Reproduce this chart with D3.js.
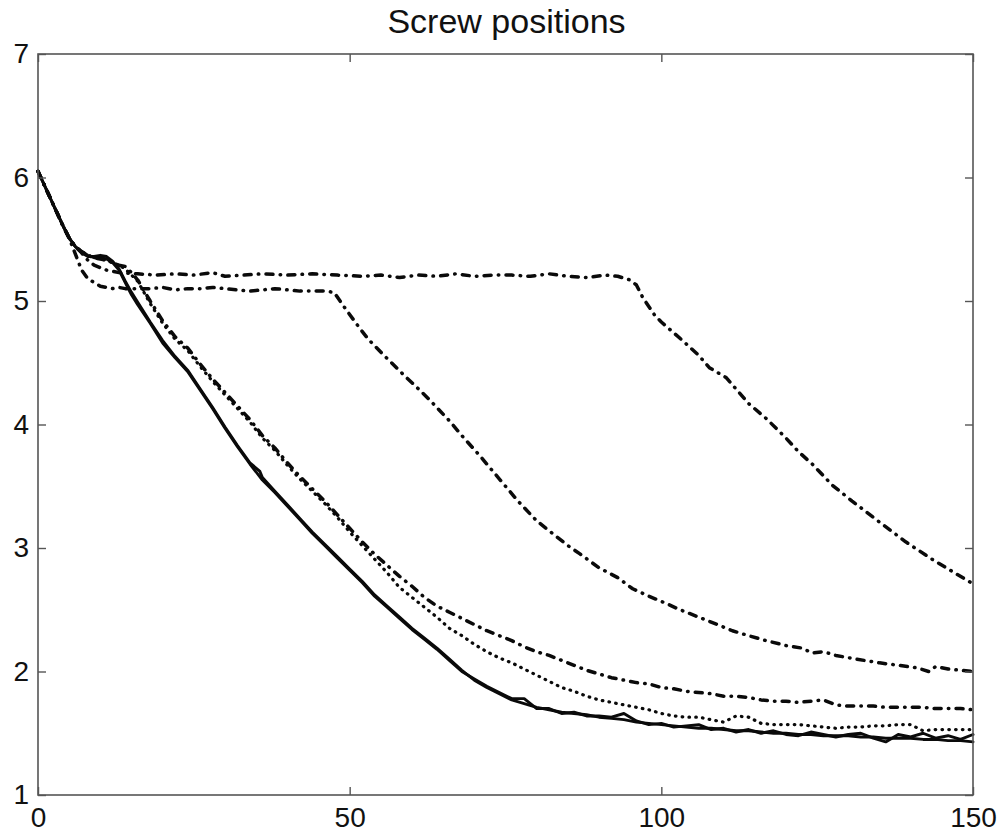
<!DOCTYPE html>
<html>
<head>
<meta charset="utf-8">
<script src="https://cdn.jsdelivr.net/npm/d3@7"></script>
<style>
  html, body { margin: 0; padding: 0; background: #fff; }
  svg { display: block; font-family: "Liberation Sans", Arial, Helvetica, sans-serif; }
</style>
</head>
<body>
<svg id="chart" width="1005" height="836"></svg>
<script>
// Screw positions over time, six runs.
const chartTitle = "Screw positions";
const xTicks = [0, 50, 100, 150];
const yTicks = [1, 2, 3, 4, 5, 6, 7];

// Solid run A
const solidAx = [0,1,2,3,4,5,6,7,8,9,10,11,12,13,14,15,16,18,20,22,24,26,28,30,32,34,35.6,36,38,40,42,44,46,48,50,52,54,56,58,60,62,64,66,68,70,72,74,76,78,80,82,84,86,88,90,92,94,96,98,100,102,104,106,108,110,112,114,116,118,120,122,124,126,128,130,132,134,136,138,140,142,144,146,148,150];
const solidAy = [6.05,5.94,5.83,5.72,5.61,5.51,5.44,5.39,5.36,5.36,5.37,5.36,5.32,5.26,5.16,5.07,4.99,4.83,4.68,4.55,4.44,4.29,4.14,3.98,3.83,3.69,3.62,3.57,3.46,3.35,3.24,3.13,3.03,2.93,2.83,2.73,2.62,2.53,2.44,2.35,2.27,2.19,2.10,2.01,1.93,1.87,1.82,1.77,1.74,1.71,1.69,1.67,1.66,1.65,1.63,1.62,1.61,1.59,1.58,1.57,1.56,1.55,1.54,1.54,1.53,1.52,1.52,1.51,1.50,1.50,1.49,1.49,1.48,1.48,1.48,1.47,1.47,1.46,1.46,1.46,1.45,1.45,1.44,1.44,1.43];

// Solid run B
const solidBx = [0,1,2,3,4,5,6,7,8,9,10,11,12,13,14,15,16,18,20,22,24,26,28,30,32,34,36,38,40,42,44,46,48,50,52,54,56,58,60,62,64,66,68,70,72,74,76,78,80,82,84,86,88,90,92,94,96,98,100,102,104,106,108,110,112,114,116,118,120,122,124,126,128,130,132,134,136,138,140,142,144,146,148,150];
const solidBy = [6.05,5.94,5.83,5.72,5.61,5.51,5.44,5.40,5.37,5.35,5.35,5.34,5.31,5.25,5.15,5.05,4.97,4.82,4.66,4.54,4.43,4.28,4.13,3.97,3.82,3.68,3.55,3.45,3.34,3.23,3.12,3.02,2.92,2.82,2.72,2.61,2.52,2.43,2.34,2.26,2.18,2.09,2.00,1.94,1.88,1.83,1.78,1.78,1.70,1.70,1.66,1.67,1.64,1.64,1.63,1.66,1.60,1.57,1.58,1.55,1.56,1.57,1.53,1.54,1.51,1.53,1.50,1.52,1.49,1.48,1.51,1.49,1.47,1.49,1.50,1.46,1.43,1.49,1.47,1.50,1.46,1.48,1.45,1.49];

// Dotted run
const dottedX = [0,1,2,3,4,5,6,7,8,9,10,11,12,13,14,15,16,18,20,22,24,26,28,30,32,34,36,38,40,42,44,46,48,50,52,54,56,58,60,62,64,66,68,70,72,74,76,78,80,82,84,86,88,90,92,94,96,98,100,102,104,106,108,110,112,114,116,118,120,122,124,126,128,130,132,134,136,138,140,142,144,146,148,150];
const dottedY = [6.05,5.94,5.83,5.72,5.61,5.51,5.44,5.40,5.37,5.35,5.34,5.33,5.31,5.29,5.26,5.21,5.16,4.98,4.82,4.69,4.60,4.47,4.35,4.24,4.13,4.02,3.89,3.79,3.67,3.56,3.46,3.36,3.25,3.13,3.02,2.91,2.80,2.68,2.60,2.52,2.44,2.35,2.29,2.22,2.16,2.11,2.07,2.02,1.97,1.92,1.87,1.84,1.80,1.77,1.75,1.73,1.71,1.69,1.66,1.64,1.63,1.63,1.61,1.59,1.64,1.63,1.58,1.57,1.57,1.57,1.56,1.55,1.54,1.55,1.55,1.56,1.56,1.57,1.57,1.52,1.53,1.53,1.53,1.53];

// Dash-dot run settling near 1.7
const dashDot1x = [0,1,2,3,4,5,6,7,8,9,10,11,12,13,14,15,16,18,20,22,24,26,28,30,32,34,36,38,40,42,44,46,48,50,52,54,56,58,60,62,64,66,68,70,72,74,76,78,80,82,84,86,88,90,92,94,96,98,100,102,104,106,108,110,112,114,116,118,120,122,124,126,128,130,132,134,136,138,140,142,144,146,148,150];
const dashDot1y = [6.05,5.94,5.83,5.72,5.61,5.51,5.44,5.40,5.37,5.35,5.34,5.33,5.31,5.29,5.28,5.23,5.17,5.00,4.84,4.71,4.62,4.49,4.37,4.26,4.15,4.04,3.91,3.81,3.69,3.58,3.48,3.38,3.27,3.16,3.05,2.95,2.86,2.77,2.69,2.60,2.53,2.48,2.43,2.38,2.33,2.29,2.25,2.20,2.16,2.13,2.09,2.05,2.01,1.98,1.95,1.93,1.91,1.90,1.87,1.86,1.84,1.83,1.82,1.80,1.80,1.79,1.77,1.76,1.76,1.75,1.76,1.77,1.73,1.72,1.72,1.72,1.71,1.71,1.71,1.71,1.70,1.70,1.70,1.69];

// Dash-dot run holding at 5.1 until t = 48
const dashDot2x = [0,1,2,3,4,5,6,7,8,9,10,11,12,13,14,16,18,20,22,24,26,28,30,32,34,36,38,40,42,44,46,47.5,49,51.6,53,55.3,58.5,61,63,66,68,71,73,75,77,80,83,85,87,90,93,95.4,98,100.8,103,106,109,111.4,114,116.8,120,122.5,124.2,126,128,131.3,135,138.1,141,142.9,144,146,148,150];
const dashDot2y = [6.05,5.94,5.83,5.72,5.61,5.51,5.38,5.25,5.18,5.15,5.12,5.11,5.10,5.11,5.10,5.10,5.10,5.11,5.09,5.10,5.10,5.11,5.10,5.09,5.08,5.09,5.10,5.09,5.08,5.08,5.08,5.07,4.96,4.78,4.69,4.57,4.41,4.29,4.19,4.03,3.91,3.74,3.62,3.50,3.38,3.22,3.10,3.02,2.95,2.84,2.76,2.67,2.61,2.55,2.50,2.44,2.38,2.33,2.29,2.25,2.21,2.19,2.15,2.16,2.13,2.10,2.07,2.05,2.03,2.00,2.04,2.02,2.01,2.00];

// Dash-dot run holding at 5.2 until t = 95
const dashDot3x = [0,1,2,3,4,5,6,7,8,9,10,11,12,13,16,19,22,25,28,30,33,36,40,44,48,52,55,58,61,64,67,70,73,76,79,82,85,88,91,93,95,96,97,99,100,103.4,106,107.7,110.4,114,116.8,120,122,124.2,127.4,130.6,135,139.2,143.4,147,150];
const dashDot3y = [6.05,5.94,5.83,5.72,5.61,5.51,5.44,5.39,5.33,5.29,5.27,5.25,5.24,5.23,5.22,5.21,5.22,5.21,5.23,5.20,5.21,5.22,5.21,5.22,5.21,5.20,5.21,5.19,5.21,5.20,5.22,5.20,5.21,5.21,5.20,5.22,5.20,5.19,5.21,5.20,5.17,5.13,5.03,4.88,4.83,4.68,4.56,4.46,4.38,4.17,4.05,3.89,3.78,3.68,3.51,3.38,3.21,3.05,2.91,2.80,2.71];

const runs = [
  { name: "solid A",    xs: solidAx,    ys: solidAy,    style: "solid" },
  { name: "solid B",    xs: solidBx,    ys: solidBy,    style: "solid" },
  { name: "dotted",     xs: dottedX,    ys: dottedY,    style: "dotted" },
  { name: "dash-dot 1", xs: dashDot1x,  ys: dashDot1y,  style: "dashdot" },
  { name: "dash-dot 2", xs: dashDot2x,  ys: dashDot2y,  style: "dashdot" },
  { name: "dash-dot 3", xs: dashDot3x,  ys: dashDot3y,  style: "dashdot" }
];

const svg = d3.select("#chart");
const plotLeft = 38, plotRight = 973, plotTop = 54, plotBottom = 795;

const x = d3.scaleLinear().domain([0, 150]).range([plotLeft, plotRight]);
const y = d3.scaleLinear().domain([1, 7]).range([plotBottom, plotTop]);

// Title
svg.append("text")
  .attr("x", (plotLeft + plotRight) / 2 + 1)
  .attr("y", 33)
  .attr("text-anchor", "middle")
  .attr("font-size", 34)
  .attr("fill", "#111")
  .text(chartTitle);

// Lines
const lineGen = d3.line().x(d => x(d[0])).y(d => y(d[1]));
const styles = {
  solid:   { width: 2.9, dash: null,            cap: "round" },
  dotted:  { width: 3.2, dash: "0.6,6.2",       cap: "round" },
  dashdot: { width: 3.5, dash: "7,7.2,0.5,7.2", cap: "round" }
};
const plot = svg.append("g");
runs.forEach(r => {
  const pts = r.xs.map((v, i) => [v, r.ys[i]]);
  const s = styles[r.style];
  plot.append("path")
    .datum(pts)
    .attr("d", lineGen)
    .attr("fill", "none")
    .attr("stroke", "#0a0a0a")
    .attr("stroke-width", s.width)
    .attr("stroke-linejoin", "round")
    .attr("stroke-linecap", s.cap)
    .attr("stroke-dasharray", s.dash);
});

// Axes with inward ticks on all four sides
const axisColor = "#555";
const tickLen = 8;
const fontSize = 28;

const axB = svg.append("g").attr("transform", `translate(0,${plotBottom})`)
  .call(d3.axisBottom(x).tickValues(xTicks).tickSize(-tickLen).tickPadding(12).tickFormat(d3.format("d")));
const axT = svg.append("g").attr("transform", `translate(0,${plotTop})`)
  .call(d3.axisTop(x).tickValues(xTicks).tickSize(-tickLen).tickFormat(""));
const axL = svg.append("g").attr("transform", `translate(${plotLeft},0)`)
  .call(d3.axisLeft(y).tickValues(yTicks).tickSize(-tickLen).tickPadding(9).tickFormat(d3.format("d")));
const axR = svg.append("g").attr("transform", `translate(${plotRight},0)`)
  .call(d3.axisRight(y).tickValues(yTicks).tickSize(-tickLen).tickFormat(""));

[axB, axT, axL, axR].forEach(g => {
  g.select(".domain").remove();
  g.selectAll(".tick line").attr("stroke", axisColor).attr("stroke-width", 1.4);
  g.selectAll(".tick text")
    .attr("fill", "#111")
    .attr("font-size", fontSize)
    .attr("font-family", "\"Liberation Sans\", Arial, Helvetica, sans-serif");
});
axB.selectAll(".tick text").attr("dy", "0.71em");

// Frame
svg.append("rect")
  .attr("x", plotLeft).attr("y", plotTop)
  .attr("width", plotRight - plotLeft).attr("height", plotBottom - plotTop)
  .attr("fill", "none")
  .attr("stroke", axisColor)
  .attr("stroke-width", 1.6);
</script>
</body>
</html>
